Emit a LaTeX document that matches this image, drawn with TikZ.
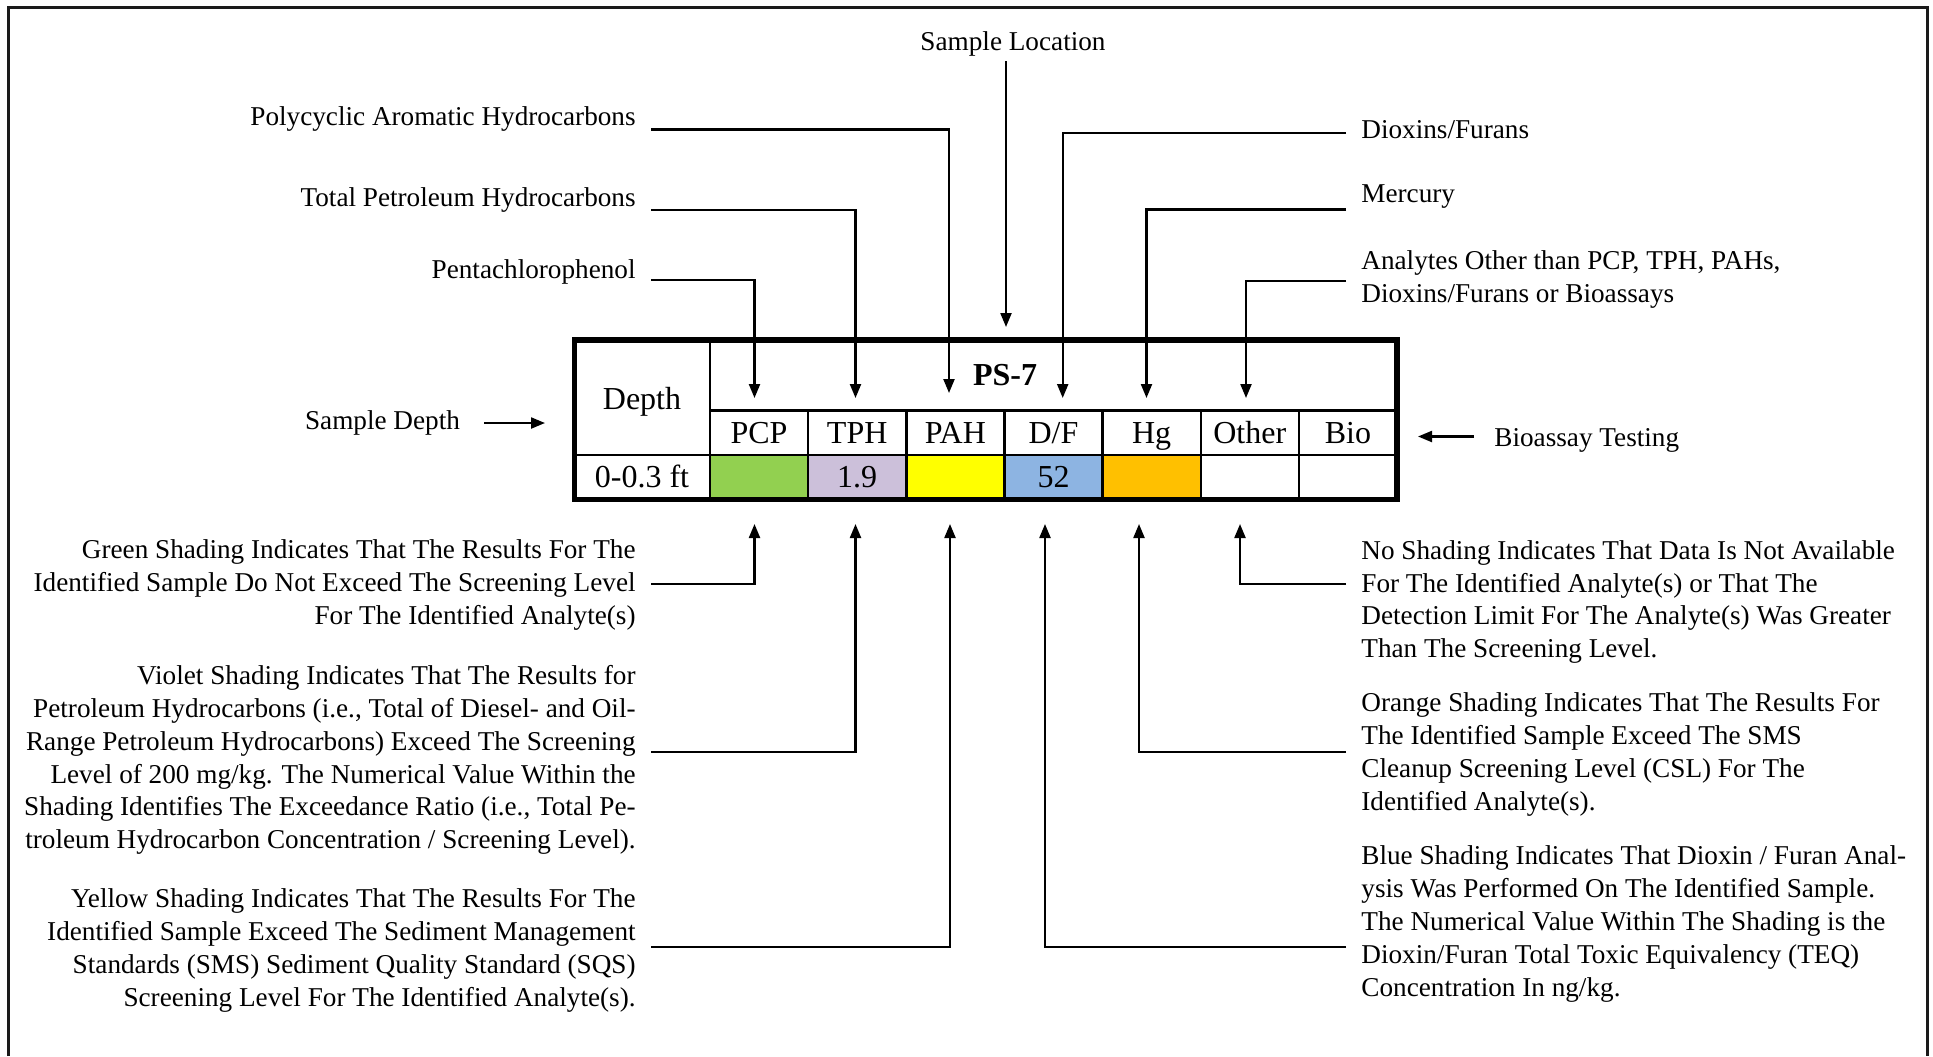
\documentclass[tikz,border=0pt]{standalone}
\usepackage{fontspec}
\setmainfont{Liberation Serif}
\usetikzlibrary{arrows.meta,calc}
\definecolor{cgreen}{HTML}{92D050}
\definecolor{cviolet}{HTML}{CCC0DA}
\definecolor{cyellow}{HTML}{FFFF00}
\definecolor{cblue}{HTML}{8DB4E2}
\definecolor{corange}{HTML}{FFC000}
\definecolor{frameblack}{HTML}{1A1A1A}
\tikzset{
  lbl/.style={font=\fontsize{13.6pt}{16.4pt}\selectfont, inner sep=0pt},
  lblL/.style={lbl, anchor=east, align=right},
  lblR/.style={lbl, anchor=west, align=left},
  conn/.style={line width=1.1pt, -{Triangle[length=7pt,width=5.5pt]}},
  celltxt/.style={font=\fontsize{16pt}{19pt}\selectfont, inner sep=0pt},
  basetxt/.style={celltxt, anchor=base},
  gridline/.style={line width=1.2pt},
  outerline/.style={line width=2.6pt},
}
\begin{document}
\begin{tikzpicture}[x=0.5pt,y=-0.5pt]
\useasboundingbox (0,0) rectangle (1933,1056);
\fill[white] (0,0) rectangle (1933,1056);
\draw[line width=1.5pt, frameblack] (8,1056) -- (8,7) -- (1927,7) -- (1927,1056);

% ---------- table ----------
\fill[cgreen]  (710,455)   rectangle (808.1,499.3);
\fill[cviolet] (808.1,455) rectangle (906.3,499.3);
\fill[cyellow] (906.3,455) rectangle (1004.4,499.3);
\fill[cblue]   (1004.4,455) rectangle (1102.6,499.3);
\fill[corange] (1102.6,455) rectangle (1200.7,499.3);
\draw[gridline] (710,340) -- (710,499.3);
\draw[gridline] (710,410.5) -- (1397,410.5);
\draw[gridline] (574.5,455) -- (1397,455);
\foreach \cx in {808.1,906.3,1004.4,1102.6,1200.7,1298.9}
  \draw[gridline] (\cx,410.5) -- (\cx,499.3);
\draw[outerline] (574.5,340) rectangle (1397,499.3);

\node[basetxt] (depth) at (642,409.5) {Depth};
\node[basetxt, font=\fontsize{16pt}{19pt}\selectfont\bfseries] (ps7) at (1005,385.5) {PS-7};
\node[basetxt] (hPCP) at (759,443.3) {PCP};
\node[basetxt] (hTPH) at (857.2,443.3) {TPH};
\node[basetxt] (hPAH) at (955.3,443.3) {PAH};
\node[basetxt] (hDF) at (1053.5,443.3) {D/F};
\node[basetxt] (hHG) at (1151.6,443.3) {Hg};
\node[basetxt] (hOTH) at (1249.8,443.3) {Other};
\node[basetxt] (hBIO) at (1348,443.3) {Bio};
\node[basetxt] (dep) at (642,487.6) {0-0.3 ft};
\node[basetxt] (vTPH) at (857.2,487.6) {1.9};
\node[basetxt] (vDF) at (1053.5,487.6) {52};

% ---------- arrow tips ----------
\coordinate (tPCP) at (754.5,398);
\coordinate (tTPH) at (855.5,398);
\coordinate (tPAH) at (949,393);
\coordinate (tLOC) at (1006,327);
\coordinate (tDF) at (1062.7,398);
\coordinate (tHG) at (1146.5,398);
\coordinate (tOTH) at (1246,398);
\coordinate (bPCP) at (754.5,524);
\coordinate (bTPH) at (855.5,524);
\coordinate (bPAH) at (950,524);
\coordinate (bDF) at (1045,524);
\coordinate (bHG) at (1139,524);
\coordinate (bOTH) at (1240,524);
\coordinate (tDEPTH) at (545,423);
\coordinate (tBIO) at (1418,436.5);

% ---------- labels ----------
\node[lbl] (locL) at (1013,43.7) {Sample Location};
\node[lblL] (pahL) at (636,119) {Polycyclic Aromatic Hydrocarbons};
\node[lblL] (tphL) at (636,200) {Total Petroleum Hydrocarbons};
\node[lblL] (pcpL) at (636,271.7) {Pentachlorophenol};
\node[lblR] (dfL) at (1361,130) {Dioxins/Furans};
\node[lblR] (hgL) at (1361,196.5) {Mercury};
\node[lblR] (othL) at (1361,279.5) {Analytes Other than PCP, TPH, PAHs,\\Dioxins/Furans or Bioassays};
\node[lbl] (depthL) at (382.5,423) {Sample Depth};
\node[lblR] (bioL) at (1494,440) {Bioassay Testing};

\node[lblL] (greenL) at (636,585) {Green Shading Indicates That The Results For The\\Identified Sample Do Not Exceed The Screening Level\\For The Identified Analyte(s)};
\node[lblL] (violetL) at (636,760) {Violet Shading Indicates That The Results for\\Petroleum Hydrocarbons (i.e., Total of Diesel- and Oil-\\Range Petroleum Hydrocarbons) Exceed The Screening\\Level of 200 mg/kg. The Numerical Value Within the\\Shading Identifies The Exceedance Ratio (i.e., Total Pe-\\troleum Hydrocarbon Concentration / Screening Level).};
\node[lblL] (yellowL) at (636,950.5) {Yellow Shading Indicates That The Results For The\\Identified Sample Exceed The Sediment Management\\Standards (SMS) Sediment Quality Standard (SQS)\\Screening Level For The Identified Analyte(s).};
\node[lblR] (noneL) at (1361,602) {No Shading Indicates That Data Is Not Available\\For The Identified Analyte(s) or That The\\Detection Limit For The Analyte(s) Was Greater\\Than The Screening Level.};
\node[lblR] (orangeL) at (1361,754.5) {Orange Shading Indicates That The Results For\\The Identified Sample Exceed The SMS\\Cleanup Screening Level (CSL) For The\\Identified Analyte(s).};
\node[lblR] (blueL) at (1361,924) {Blue Shading Indicates That Dioxin / Furan Anal-\\ysis Was Performed On The Identified Sample.\\The Numerical Value Within The Shading is the\\Dioxin/Furan Total Toxic Equivalency (TEQ)\\Concentration In ng/kg.};

% ---------- connectors ----------
\draw[conn] ([yshift=-2.5pt]locL.south -| tLOC) -- (tLOC);
\draw[conn] ($(pahL.east)+(15,10.4)$) -| (tPAH);
\draw[conn] ($(tphL.east)+(15,9.6)$) -| (tTPH);
\draw[conn] ($(pcpL.east)+(15,8.3)$) -| (tPCP);
\draw[conn] ($(dfL.west)+(-15,3)$) -| (tDF);
\draw[conn] ($(hgL.west)+(-15,13)$) -| (tHG);
\draw[conn] ($(othL.west)+(-15,1.5)$) -| (tOTH);
\draw[conn] ($(depthL.east)+(24,0)$) -- (tDEPTH);
\draw[conn] ($(bioL.west)+(-20,-3.5)$) -- (tBIO);

\draw[conn] ($(greenL.east)+(15,-1)$) -| (bPCP);
\draw[conn] ($(violetL.east)+(15,-8)$) -| (bTPH);
\draw[conn] ($(yellowL.east)+(15,-3.5)$) -| (bPAH);
\draw[conn] ($(blueL.west)+(-15,23)$) -| (bDF);
\draw[conn] ($(orangeL.west)+(-15,-2.5)$) -| (bHG);
\draw[conn] ($(noneL.west)+(-15,-18)$) -| (bOTH);
\end{tikzpicture}
\end{document}
